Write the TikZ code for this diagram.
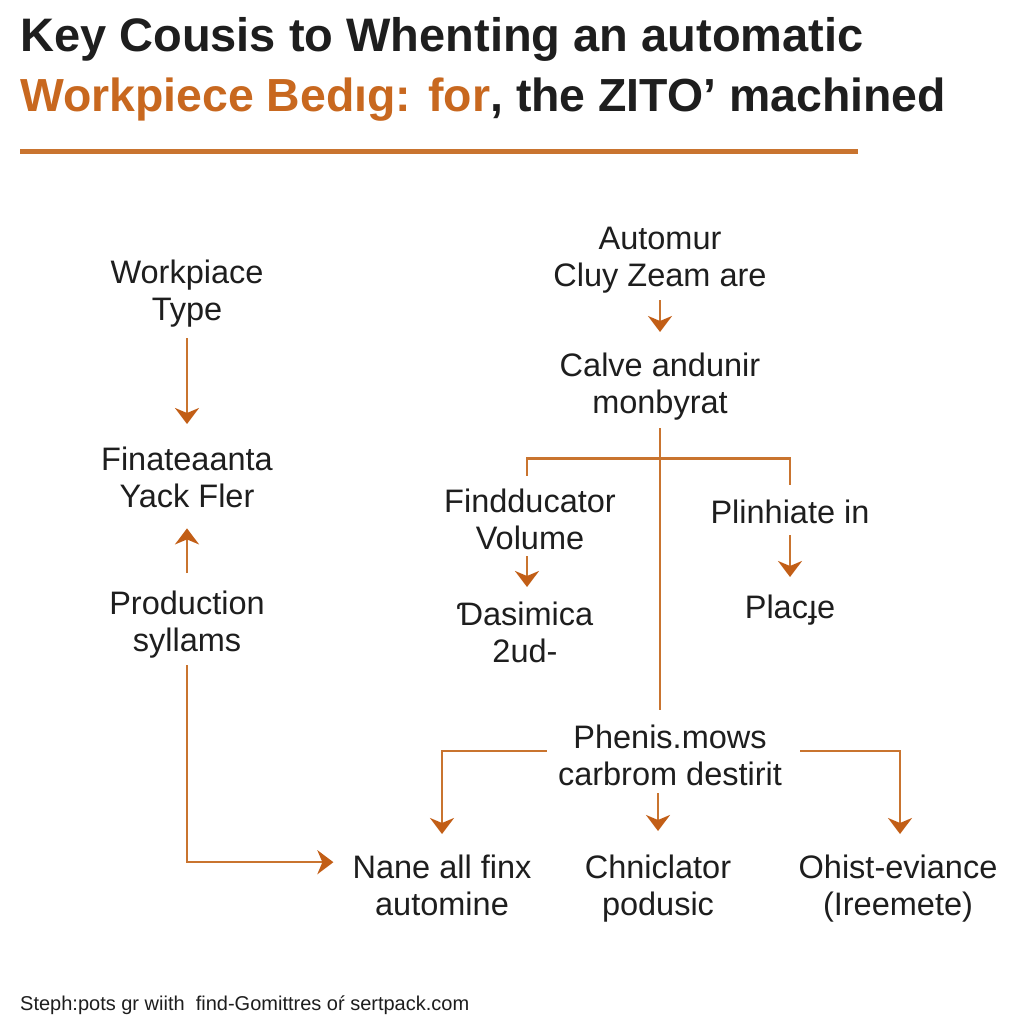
\documentclass[tikz,border=0pt]{standalone}
\usepackage{fontspec}
\setmainfont{Liberation Sans}
\usetikzlibrary{arrows.meta,calc}
\definecolor{orng}{HTML}{C8681F}
\definecolor{lineor}{HTML}{C9742F}
\definecolor{heador}{HTML}{C25E16}
\definecolor{ink}{HTML}{1E1E1E}
\begin{document}
\begin{tikzpicture}[x=1pt,y=-1pt,
  lbl/.style={anchor=north,inner sep=0pt,align=center,text=ink,font=\fontsize{32.5}{37}\selectfont},
  conn/.style={draw=lineor,line width=2.5pt},
  arr/.style={conn,-{Stealth[length=16pt,width=24pt,inset=5pt,color=heador]}},
  ]
\useasboundingbox[fill=white] (0,0) rectangle (1024,1024);
% title
\node[anchor=base west,inner sep=0pt,text=ink,font=\fontsize{47}{50}\selectfont\bfseries] (t1) at (20,52) {Key Cousis to Whenting an automatic};
\node[anchor=base west,inner sep=0pt,text=ink,font=\fontsize{46.4}{50}\selectfont\bfseries] (t2) at (20,112) {\textcolor{orng}{Workpiece Bedıg: for}, the ZITO’ machined};
\draw[draw=lineor,line width=5pt] (20,152) -- (858,152);
% left column
\node[lbl] (wt) at (187,257) {\strut Workpiace\\\strut Type};
\node[lbl] (fy) at (187,444) {\strut Finateaanta\\\strut Yack Fler};
\node[lbl] (ps) at (187,588) {\strut Production\\\strut syllams};
% right part
\node[lbl] (az) at (660,223) {\strut Automur\\\strut Cluy Zeam are};
\node[lbl] (ca) at (660,350) {\strut Calve andunir\\\strut monbyrat};
\node[lbl] (fd) at (530,486) {\strut Findducator\\\strut Volume};
\node[lbl] (pl) at (790,497) {\strut Plinhiate in};
\node[lbl] (da) at (525,599) {\strut Ɗasimica\\\strut 2ud-};
\node[lbl] (pc) at (790,592) {\strut Placɟe};
\node[lbl] (ph) at (670,722) {\strut Phenis.mows\\\strut carbrom destirit};
\node[lbl] (na) at (442,852) {\strut Nane all finx\\\strut automine};
\node[lbl] (cp) at (658,852) {\strut Chniclator\\\strut podusic};
\node[lbl] (oe) at (898,852) {\strut Ohist-eviance\\\strut (Ireemete)};
% footer
\node[anchor=base west,inner sep=0pt,text=ink,font=\fontsize{20}{22}\selectfont] (ft) at (20,1010) {Steph:pots gr wiith\ \ find-Gomittres oŕ sertpack.com};
% connectors left
\draw[arr,shorten <=7pt,shorten >=1pt] (wt.south) -- ([yshift=19pt]fy.north);
\draw[arr,shorten <=15pt,shorten >=1pt] (ps.north) -- ([yshift=-9pt]fy.south);
\draw[arr,shorten <=3pt,shorten >=1pt] (ps.south) |- ([xshift=-18pt,yshift=27pt]na.west);
% connectors right
\draw[arr,shorten <=3pt,shorten >=1pt] (az.south) -- ([yshift=17pt]ca.north);
\draw[conn,shorten <=4pt] (ca.south) -- ([yshift=12pt]ca.south |- ph.north);
\draw[conn] ([yshift=-34pt]ca.south) -| ([xshift=-3pt,yshift=10pt]fd.north);
\draw[conn] ([yshift=-34pt]ca.south) -| ([yshift=12pt]pl.north);
\draw[arr,shorten >=1pt] ([xshift=-3pt,yshift=4pt]fd.south) -- ([xshift=-3pt,yshift=11pt]da.north -| fd.south);
\draw[arr,shorten <=1pt,shorten >=1pt] (pl.south) -- ([yshift=14pt]pc.north);
\draw[arr,shorten >=1pt] ([xshift=-11pt,yshift=8pt]ph.west) -| ([yshift=17pt]na.north);
\draw[arr,shorten >=1pt] ([xshift=18pt,yshift=8pt]ph.east) -| ([xshift=2pt,yshift=17pt]oe.north);
\draw[arr,shorten >=1pt] ([yshift=3pt]cp.north |- ph.south) -- ([yshift=20pt]cp.north);
\end{tikzpicture}
\end{document}
